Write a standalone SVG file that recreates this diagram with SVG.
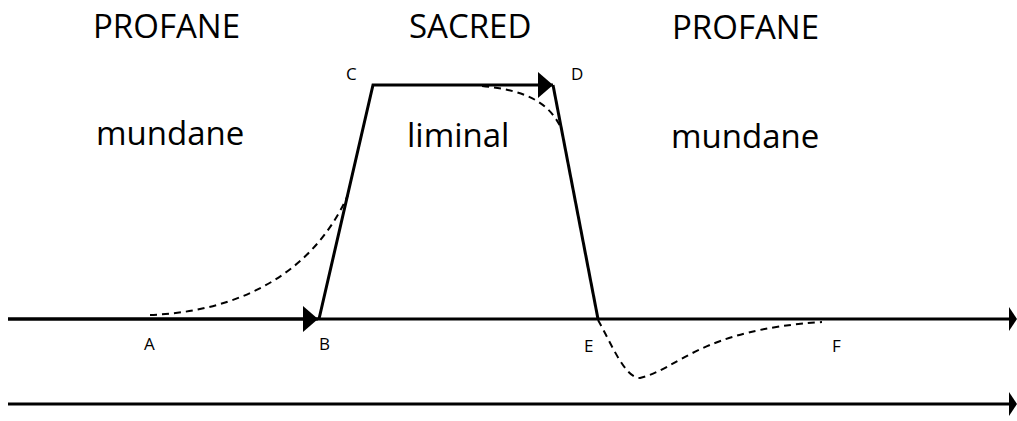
<svg xmlns="http://www.w3.org/2000/svg" width="1017" height="421" viewBox="0 0 1017 421">
<style>
.big{font-family:"Open Sans","Liberation Sans",sans-serif;font-size:33px;fill:#000}
.lbl{font-family:"Open Sans","Liberation Sans",sans-serif;font-size:17px;fill:#000}
.solid{stroke:#000;stroke-width:3;fill:none}
.dash{stroke:#000;stroke-width:2;fill:none;stroke-dasharray:7 5}
</style>
<defs>
<marker id="tri" markerUnits="userSpaceOnUse" markerWidth="16" markerHeight="26" refX="15" refY="13" orient="auto">
<path d="M0,0 L15,13 L0,26 Z" fill="#000"/>
</marker>
</defs>
<rect width="1017" height="421" fill="#fff"/>
<g id="labels">
<text class="big" x="93" y="38">PROFANE</text>
<text class="big" x="409" y="38">SACRED</text>
<text class="big" x="672" y="39">PROFANE</text>
<text class="big" x="96" y="145">mundane</text>
<text class="big" x="407" y="147">liminal</text>
<text class="big" x="671" y="148">mundane</text>
</g>
<g id="points">
<text class="lbl" x="346" y="80">C</text>
<text class="lbl" x="571" y="80">D</text>
<text class="lbl" x="144" y="350">A</text>
<text class="lbl" x="319" y="350">B</text>
<text class="lbl" x="584" y="352">E</text>
<text class="lbl" x="832" y="352">F</text>
</g>
<g id="connectors">
<line class="solid" x1="8" y1="319" x2="1010" y2="319"/>
<path d="M1009,307 L1017,319 L1009,331 Z" fill="#000"/>
<line class="solid" x1="8" y1="404" x2="1010" y2="404"/>
<path d="M1009,392 L1017,404 L1009,416 Z" fill="#000"/>
<line class="solid" x1="8" y1="319" x2="318" y2="319" marker-end="url(#tri)"/>
<path class="solid" d="M319,319 L373,85 L553,85" marker-end="url(#tri)"/>
<path class="solid" d="M553,85 L598,319"/>
<path class="dash" d="M150,315 C230,312 310,280 348,195"/>
<path class="dash" d="M482,86 C522,90 548,100 561,128"/>
<path class="dash" d="M598,320 C612,345 625,378 640,378 C680,368 700,330 822,322"/>
</g>
</svg>
